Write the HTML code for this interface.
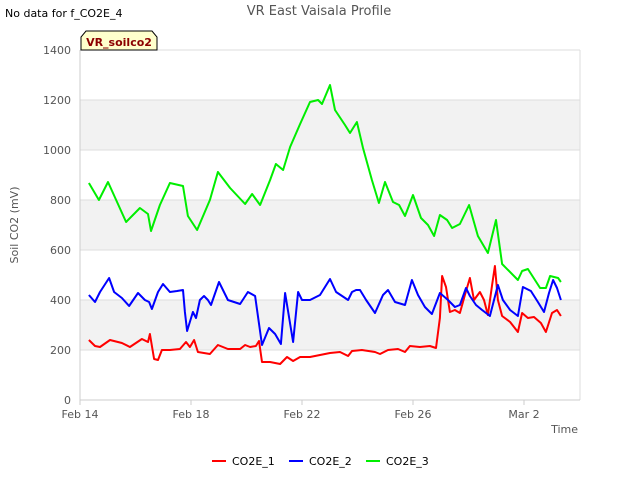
<!DOCTYPE html>
<html><head><meta charset="utf-8"><style>
body{margin:0;background:#fff;font-family:"Liberation Sans","DejaVu Sans",sans-serif}
svg text{font-family:"DejaVu Sans","Liberation Sans",sans-serif}
</style></head><body>
<svg id="c" width="640" height="480" viewBox="0 0 640 480">
<text x="5" y="17" font-size="11" fill="#000">No data for f_CO2E_4</text>
<text x="319" y="15" font-size="13" fill="#555" text-anchor="middle">VR East Vaisala Profile</text>
<g id="grid"></g>
<g id="ax"></g>
<g id="series"></g>
<text x="18" y="225" font-size="11" fill="#555" text-anchor="middle" transform="rotate(-90 18 225)">Soil CO2 (mV)</text>
<text x="578" y="433" font-size="11" fill="#555" text-anchor="end">Time</text>
<g>
<path d="M81,50 L81,37 L86,31 L152,31 L157,37 L157,50 Z" fill="#ffffcc" stroke="#000" stroke-width="1"/>
<text x="119" y="46" font-size="11" font-weight="bold" fill="#8b0000" text-anchor="middle">VR_soilco2</text>
</g>
<g id="legend"></g>
</svg>
<script>
const yTicks=[0,200,400,600,800,1000,1200,1400];
const xTickDays=[0,4,8,12,16];
const xTickLabels=["Feb 14","Feb 18","Feb 22","Feb 26","Mar 2"];
const seriesNames=["CO2E_1","CO2E_2","CO2E_3"];
const seriesColors=["#ff0000","#0000ff","#00ee00"];
const g3t=[0.32,0.68,1.01,1.66,2.16,2.45,2.56,2.88,3.24,3.71,3.89,4.22,4.68,4.97,5.41,5.95,6.20,6.49,6.85,7.06,7.32,7.57,7.93,8.29,8.58,8.72,9.01,9.19,9.55,9.73,9.98,10.20,10.52,10.77,10.99,11.28,11.50,11.71,12.00,12.29,12.54,12.76,12.97,13.23,13.41,13.69,14.02,14.34,14.70,14.99,15.21,15.78,15.93,16.14,16.58,16.79,16.94,17.23,17.33];
const g3v=[868,800,872,712,768,744,676,780,868,856,736,680,800,912,848,784,824,780,880,944,920,1012,1104,1192,1200,1184,1260,1160,1100,1068,1112,1008,880,788,872,792,780,736,820,728,700,656,740,720,688,704,780,656,588,720,544,480,516,524,448,448,496,488,472];
const b2t=[0.32,0.54,0.72,1.05,1.23,1.51,1.77,2.09,2.34,2.49,2.59,2.81,2.99,3.24,3.50,3.71,3.78,3.86,4.07,4.18,4.32,4.47,4.61,4.72,5.01,5.33,5.77,6.05,6.31,6.56,6.81,7.03,7.24,7.39,7.68,7.86,8.00,8.29,8.65,9.01,9.23,9.66,9.80,9.95,10.09,10.31,10.63,10.92,11.10,11.35,11.71,11.96,12.18,12.43,12.68,12.97,13.26,13.51,13.69,13.91,14.05,14.27,14.49,14.77,15.06,15.24,15.50,15.78,15.96,16.25,16.50,16.72,16.90,17.05,17.19,17.33];
const b2v=[420,392,432,488,432,408,376,428,400,392,364,432,464,432,436,440,352,276,352,328,400,416,400,380,472,400,384,432,416,220,288,264,224,428,232,432,400,400,420,484,432,400,432,440,440,400,348,420,440,392,380,480,420,372,344,428,400,372,380,448,416,380,360,336,460,400,360,336,452,436,392,352,428,480,448,400];
const r1t=[0.32,0.54,0.72,1.08,1.51,1.80,2.23,2.45,2.52,2.67,2.81,2.95,3.24,3.60,3.82,3.96,4.11,4.25,4.68,4.97,5.33,5.77,5.95,6.13,6.34,6.45,6.56,6.85,7.21,7.46,7.68,7.93,8.29,8.65,9.01,9.37,9.66,9.80,10.16,10.63,10.81,11.10,11.46,11.71,11.89,12.25,12.61,12.83,12.97,13.05,13.19,13.33,13.51,13.69,13.87,14.05,14.20,14.41,14.56,14.70,14.85,14.95,15.06,15.21,15.50,15.78,15.93,16.14,16.36,16.61,16.79,17.01,17.19,17.33];
const r1v=[240,216,212,240,228,212,244,232,264,164,160,200,200,204,232,212,240,192,184,220,204,204,220,212,216,236,152,152,144,172,156,172,172,180,188,192,176,196,200,192,184,200,204,192,216,212,216,208,328,496,452,352,360,348,420,488,400,432,400,340,460,536,400,336,312,272,348,328,332,308,272,348,360,336];
const L=80,R=580,T=50,B=400,ymax=1400,dayW=27.75;
const X=d=>L+d*dayW, Y=v=>B-(B-T)*v/ymax;
const NS="http://www.w3.org/2000/svg";
function mk(tag,attrs,parent){const e=document.createElementNS(NS,tag);for(const k in attrs)e.setAttribute(k,attrs[k]);parent.appendChild(e);return e;}
const grid=document.getElementById('grid'),ax=document.getElementById('ax');
for(let i=0;i<yTicks.length-1;i++){
  if(i%2===1){const r=mk('rect',{x:L,y:Y(yTicks[i+1]),width:R-L,height:Y(yTicks[i])-Y(yTicks[i+1]),fill:'#f2f2f2'},grid);
  
  }
}
yTicks.forEach(v=>{
  const l=mk('line',{x1:L,x2:R,y1:Y(v),y2:Y(v),stroke:'#dddddd','stroke-width':1},grid);
  
  
  const t=mk('text',{x:L-9,y:Y(v)+4,'font-size':11,fill:'#555','text-anchor':'end'},ax);t.textContent=v;
  
  
});
mk('line',{x1:L,x2:L,y1:T,y2:B,stroke:'#ccc'},ax);
mk('line',{x1:R,x2:R,y1:T,y2:B,stroke:'#ddd'},ax);
mk('line',{x1:L,x2:R,y1:B,y2:B,stroke:'#ccc'},ax);
xTickDays.forEach((d,i)=>{
  mk('line',{x1:X(d),x2:X(d),y1:B,y2:B+5,stroke:'#ccc'},ax);
  const t=mk('text',{x:X(d),y:B+18,'font-size':11,fill:'#555','text-anchor':'middle'},ax);t.textContent=xTickLabels[i];
  
  
});
const sg=document.getElementById('series');
[[r1t,r1v],[b2t,b2v],[g3t,g3v]].forEach((s,i)=>{
  const d=s[0].map((t,j)=>(j?'L':'M')+X(t).toFixed(1)+','+Y(s[1][j]).toFixed(1)).join(' ');
  const p=mk('path',{d:d,fill:'none',stroke:seriesColors[i],'stroke-width':2,'stroke-linejoin':'round'},sg);
  
  
});
const lg=document.getElementById('legend');
const lx=[212,289,366];
seriesNames.forEach((n,i)=>{
  const g=mk('g',{},lg);
  
  
  mk('line',{x1:lx[i],x2:lx[i]+14,y1:461,y2:461,stroke:seriesColors[i],'stroke-width':2},g);
  const t=mk('text',{x:lx[i]+20,y:465,'font-size':11,fill:'#000'},g);t.textContent=n;
});
</script>
</body></html>
